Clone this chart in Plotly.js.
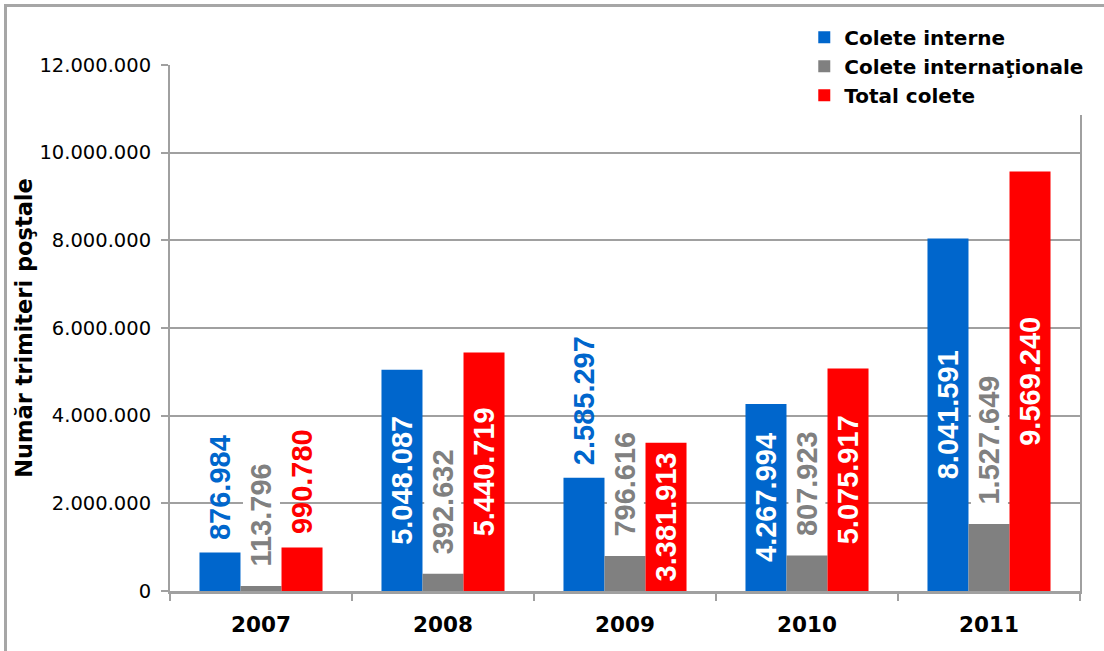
<!DOCTYPE html>
<html>
<head>
<meta charset="utf-8">
<script src="https://cdn.plot.ly/plotly-3.0.1.min.js"></script>
<style>
  html, body { margin: 0; padding: 0; background: #ffffff; }
  #chart { width: 1104px; height: 651px; position: absolute; left: 0; top: 0; }
  #frame { position: absolute; left: 4px; top: 4px; width: 2000px; height: 2000px;
           border-left: 3px solid #a6a6a6; border-top: 3px solid #a6a6a6; pointer-events: none; }
</style>
</head>
<body>
<div id="chart"></div>
<div id="frame"></div>
<script>
// ---- data ----
const years = ['2007', '2008', '2009', '2010', '2011'];
const coleteInterne = [876984, 5048087, 2585297, 4267994, 8041591];
const coleteInternationale = [113796, 392632, 796616, 807923, 1527649];
const totalColete = [990780, 5440719, 3381913, 5075917, 9569240];
const seriesNames = ['Colete interne', 'Colete internaţionale', 'Total colete'];
const yTickVals = [0, 2000000, 4000000, 6000000, 8000000, 10000000, 12000000];

// ---- styling ----
const colors = ['#0066CC', '#808080', '#FF0000'];
const BOLD = 'DejaVu Sans, Verdana, sans-serif';
const LABEL = 'Liberation Sans, Arial, sans-serif';
const W = 1104, H = 651;
const M = { l: 170, r: 24, t: 65, b: 60 };
const bargap = 0.324;
const insideMin = 3000000; // labels fit inside bars taller than this

function fmt(v) { return String(v).replace(/\B(?=(\d{3})+(?!\d))/g, '.'); }

const allSeries = [coleteInterne, coleteInternationale, totalColete];
const plotW = W - M.l - M.r;
const catPx = plotW / years.length;
const barPx = catPx * (1 - bargap) / allSeries.length;

const traces = allSeries.map((vals, i) => ({
  type: 'bar',
  name: seriesNames[i],
  x: years,
  y: vals,
  marker: { color: colors[i], line: { width: 0 } },
  text: vals.map(fmt),
  textposition: vals.map(v => (i !== 1 && v > insideMin) ? 'inside' : 'none'),
  insidetextanchor: 'middle',
  textangle: -90,
  constraintext: 'none',
  insidetextfont: { family: LABEL, size: 29, color: '#ffffff', weight: 'bold' },
  hoverinfo: 'skip'
}));

const annotations = [];
allSeries.forEach((vals, i) => {
  vals.forEach((v, j) => {
    if (i === 1 || v <= insideMin) {
      annotations.push({
        x: j, y: v, xref: 'x', yref: 'y',   // j = category index of years[j]
        xshift: (i - 1) * barPx,
        yshift: i === 1 ? 16 : 12,
        text: fmt(v),
        showarrow: false,
        textangle: -90,
        xanchor: 'center', yanchor: 'bottom',
        bgcolor: i === 1 ? '#ffffff' : 'rgba(0,0,0,0)',
        borderpad: i === 1 ? 2 : 0,
        font: { family: LABEL, size: 29, color: colors[i], weight: 'bold' }
      });
    }
  });
});

const layout = {
  width: W, height: H,
  margin: M,
  paper_bgcolor: '#ffffff',
  plot_bgcolor: '#ffffff',
  separators: ',.',
  barmode: 'group',
  bargap: bargap,
  bargroupgap: 0,
  showlegend: true,
  legend: {
    x: 0.697, y: 1.09, xanchor: 'left', yanchor: 'top',
    bgcolor: '#ffffff', borderwidth: 0,
    font: { family: BOLD, size: 20, color: '#000000', weight: 'bold' },
    tracegroupgap: 0, itemclick: false
  },
  xaxis: {
    type: 'category',
    categoryarray: years,
    range: [-0.5, years.length - 0.5],
    tickson: 'boundaries',
    ticks: 'outside', ticklen: 7, tickwidth: 2, tickcolor: '#a0a0a0',
    showline: true, linecolor: '#a0a0a0', linewidth: 3,
    showgrid: false, zeroline: false,
    tickangle: 0,
    ticklabelstandoff: 12,
    tickfont: { family: BOLD, size: 21.5, color: '#000000', weight: 'bold' }
  },
  yaxis: {
    range: [0, 12000000],
    tickvals: yTickVals,
    ticktext: yTickVals.map(fmt),
    ticks: 'outside', ticklen: 7, tickwidth: 2, tickcolor: '#a0a0a0',
    showline: true, linecolor: '#a0a0a0', linewidth: 2, mirror: true,
    showgrid: true, gridcolor: '#a0a0a0', gridwidth: 2,
    zeroline: false,
    ticklabelstandoff: 6,
    tickfont: { family: 'DejaVu Sans, Verdana, sans-serif', size: 19.5, color: '#000000' },
    title: {
      text: 'Număr trimiteri poştale',
      font: { family: BOLD, size: 22.5, color: '#000000', weight: 'bold' },
      standoff: 1
    }
  },
  annotations: annotations
};

Plotly.newPlot('chart', traces, layout, { staticPlot: true, displayModeBar: false });
</script>
</body>
</html>
